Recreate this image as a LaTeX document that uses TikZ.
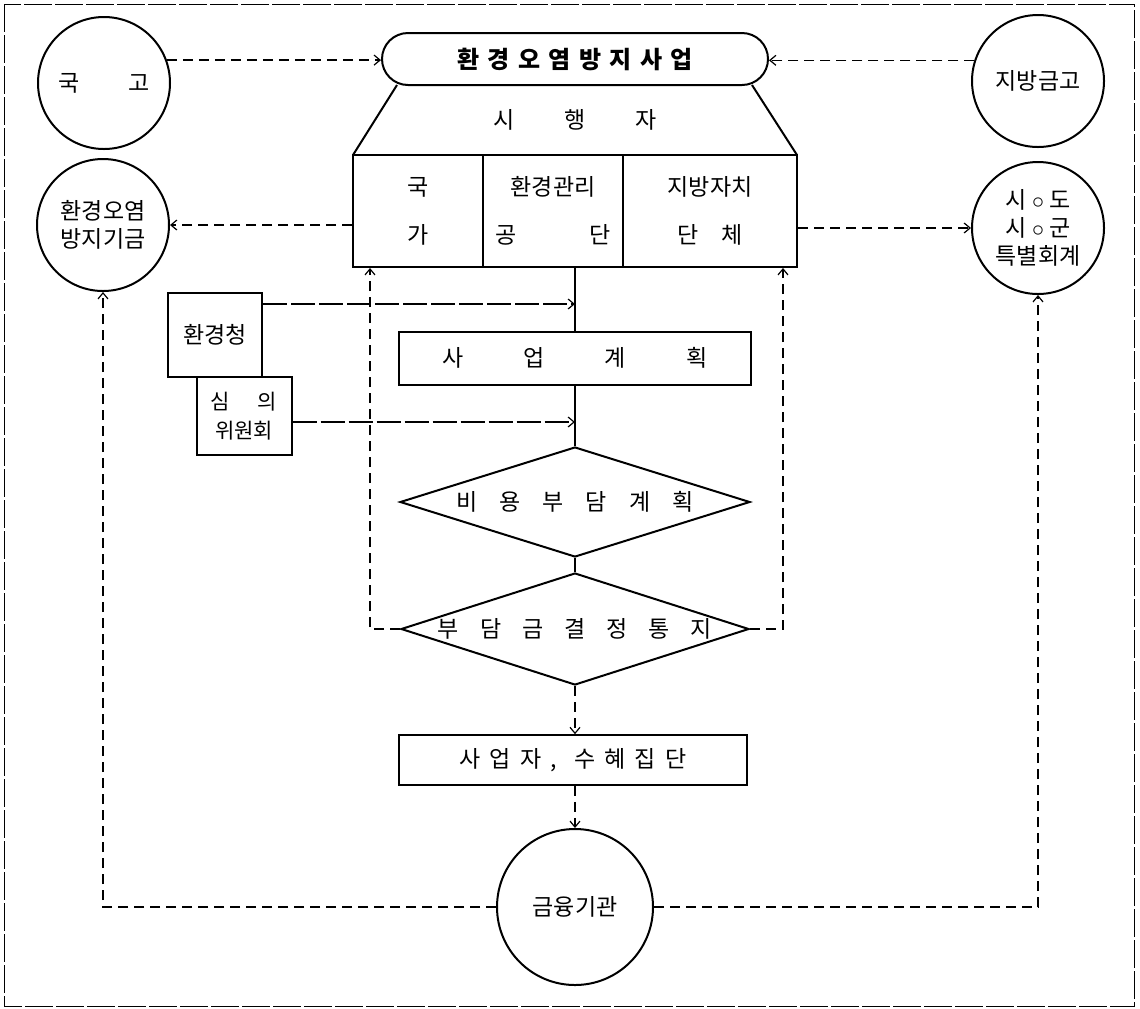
\documentclass[tikz,border=0pt]{standalone}
\usepackage{fontspec}
\setmainfont{Noto Sans CJK KR}
\usetikzlibrary{shapes.geometric,shapes.misc,arrows.meta}

\begin{document}
\begin{tikzpicture}[x=0.5pt,y=-0.5pt,
    every node/.style={font=\fontsize{11.5}{14}\selectfont},
    letters/.style={font={\fontsize{11.5}{14}\selectfont\spaceskip=#1\relax}},
    unit/.style={draw,line width=1pt,inner sep=0pt},
    fund/.style={circle,draw,line width=1pt,minimum size=66pt,inner sep=0pt,align=center},
    link/.style={line width=0.6pt,dash pattern=on 5pt off 3pt,-{Straight Barb[length=3pt,width=5pt]}},
    feed/.style={line width=0.6pt,dash pattern=on 12pt off 2pt,-{Straight Barb[length=3pt,width=5pt]}},
    frame/.style={line width=0.5pt,dash pattern=on 14pt off 1.5pt}]
  \useasboundingbox (0,0) rectangle (1140,1008);
  \draw[frame] (4,4) rectangle (1134,1006);
  \node[fund] (gukgo) at (104,83) {국\hspace{24.5pt}고};
  \node[fund] (fund) at (103,225) {환경오염\\방지기금};
  \node[fund] (jibang) at (1038,81) {지방금고};
  \node[fund] (sido) at (1038,228) {시 $\circ$ 도\\시 $\circ$ 군\\특별회계};
  \node[fund,minimum size=78pt] (bank) at (575,907) {금융기관};
  \node[unit,rounded rectangle,minimum width=193pt,minimum height=26pt,
        font={\fontsize{12}{14}\selectfont\bfseries\spaceskip=4.2pt\relax}] (project) at (575,59) {환 경 오 염 방 지 사 업};
  \draw[line width=1pt] (397,85) -- (353,155) (752,85) -- (797,155);
  \node[letters=25pt] (doer) at (575,120) {시 행 자};
  \node[unit,minimum width=65pt,minimum height=56pt,align=center] (state) at (418,211) {국\\[10pt]가};
  \node[unit,minimum width=70pt,minimum height=56pt,align=center] (kecorp) at (553,211) {환경관리\\[10pt]공\hspace{36pt}단};
  \node[unit,minimum width=87pt,minimum height=56pt,align=center] (local) at (710,211) {지방자치\\[10pt]단\hspace{11.5pt}체};
  \node[unit,minimum width=47pt,minimum height=42pt] (hq) at (215,335) {환경청};
  \node[unit,minimum width=47.5pt,minimum height=39pt,align=center,
        font=\fontsize{10.5}{14.5}\selectfont] (council) at (244,416) {심\hspace{14pt}의\\위원회};
  \node[unit,minimum width=176pt,minimum height=26.5pt,letters=30pt] (plan) at (575,358) {사 업 계 획};
  \node[unit,diamond,aspect=3.2,minimum width=175pt,minimum height=55pt,letters=11pt] (cost) at (575,502) {비 용 부 담 계 획};
  \node[unit,diamond,aspect=3.1,minimum width=174pt,minimum height=56pt,letters=10.5pt] (notice) at (575,629) {부 담 금 결 정 통 지};
  \node[unit,line width=0.8pt,minimum width=174pt,minimum height=25pt,letters=4.5pt] (biz) at (573,760) {사 업 자 , ~수 혜 집 단};
  \begin{scope}[line width=0.8pt]
    \draw (plan.north |- kecorp.south) -- (plan.north);
    \draw (plan.south) -- (cost.north);
    \draw (cost.south) -- (notice.north);
  \end{scope}
  \begin{scope}[feed]
    \draw ([yshift=-6pt]hq.north east) -- ([yshift=-6pt]hq.north east -| plan.north);
    \draw ([yshift=-3pt]council.east) -- ([yshift=-3pt]council.east -| plan.south);
  \end{scope}
  \begin{scope}[link]
    \draw (gukgo.20) -- (gukgo.20 -| project.west);
    \draw (jibang.162) -- (jibang.162 -| project.east);
    \draw (state.west |- fund.east) -- (fund.east);
    \draw (local.east |- sido.west) -- (sido.west);
    \draw (notice.west) -| ([xshift=9pt]state.south west);
    \draw (notice.east) -| ([xshift=-7.5pt]local.south east);
    \draw (notice.south) -- (notice.south |- biz.north);
    \draw (bank.north |- biz.south) -- (bank.north);
    \draw (bank.west) -| (fund.south);
    \draw (bank.east) -| (sido.south);
  \end{scope}
\end{tikzpicture}
\end{document}
